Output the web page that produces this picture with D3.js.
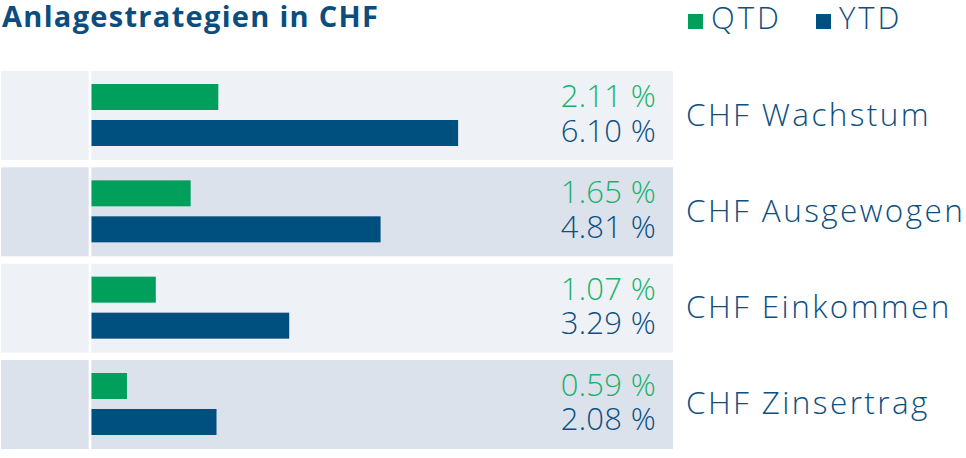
<!doctype html>
<html lang="de">
<head>
  <meta charset="utf-8">
  <title>Anlagestrategien in CHF</title>
  <style>
    body { margin: 0; background: #fff; }
    svg { display: block; }
    .title { font-family: "Open Sans", sans-serif; font-weight: 700; font-size: 29px; letter-spacing: 1.3px; fill: #0b4d7e; }
    .lbl { font-family: "Open Sans", sans-serif; font-weight: 300; }
  </style>
</head>
<body>
  <div id="chart"></div>
  <script src="https://cdn.jsdelivr.net/npm/d3@7"></script>
  <script>
(function(){

  var width = 966;
  var height = 458;

  // data
  var categories = ["CHF Wachstum", "CHF Ausgewogen", "CHF Einkommen", "CHF Zinsertrag"];
  var series = ["QTD", "YTD"];
  var qtd = [2.11, 1.65, 1.07, 0.59];
  var ytd = [6.10, 4.81, 3.29, 2.08];

  var colors = { QTD: "#00a05c", YTD: "#00507f" };
  var textColors = { QTD: "#1bb26a", YTD: "#0e4f80" };
  var rowFill = ["#eef2f7", "#dbe2ec"];
  var fmt = function(v) { return v.toFixed(2) + " %"; };

  var svg = d3.select("#chart")
      .append("svg")
      .attr("width", width)
      .attr("height", height);

  var x = d3.scaleLinear().domain([0, 10]).range([91.5, 692.5]);
  var y = d3.scaleBand().domain(categories).range([71, 449]).paddingInner(0.076).paddingOuter(0);
  var ys = d3.scaleBand().domain(series).range([13, 75]).paddingInner(0.2778).paddingOuter(0);

  svg.append("text")
      .attr("class", "title")
      .attr("x", 2)
      .attr("y", 27)
      .text("Anlagestrategien in CHF");

  // legend
  var legX = [688, 816];
  var leg = svg.selectAll(".leg").data(series).enter()
      .append("g")
      .attr("class", "leg")
      .attr("transform", function(d, i) { return "translate(" + legX[i] + ",0)"; });
  leg.append("rect")
      .attr("x", 0).attr("y", 14)
      .attr("width", 15).attr("height", 15)
      .attr("fill", function(d) { return colors[d]; });
  leg.append("text")
      .attr("class", "lbl")
      .attr("x", 23).attr("y", 29)
      .attr("font-size", 31)
      .attr("letter-spacing", 3)
      .attr("fill", "#0e4f80")
      .text(function(d) { return d; });

  var rows = svg.selectAll(".row")
      .data(categories.map(function(c, i) { return { name: c, QTD: qtd[i], YTD: ytd[i] }; }))
      .enter()
      .append("g")
      .attr("class", "row")
      .attr("transform", function(d) { return "translate(0," + y(d.name) + ")"; });

  rows.append("rect")
      .attr("x", 1)
      .attr("width", 672)
      .attr("height", y.bandwidth())
      .attr("fill", function(d, i) { return rowFill[i % 2]; });

  rows.append("rect")
      .attr("x", 88.7)
      .attr("width", 2.6)
      .attr("height", y.bandwidth())
      .attr("fill", "#fff");

  rows.selectAll(".bar")
      .data(function(d) { return series.map(function(s) { return { key: s, value: d[s] }; }); })
      .enter()
      .append("rect")
      .attr("class", "bar")
      .attr("x", x(0))
      .attr("y", function(d) { return ys(d.key); })
      .attr("width", function(d) { return x(d.value) - x(0); })
      .attr("height", ys.bandwidth())
      .attr("fill", function(d) { return colors[d.key]; });

  var valBase = { QTD: 36, YTD: 70.5 };
  rows.selectAll(".val")
      .data(function(d) { return series.map(function(s) { return { key: s, value: d[s] }; }); })
      .enter()
      .append("text")
      .attr("class", "lbl val")
      .attr("x", 656)
      .attr("y", function(d) { return valBase[d.key]; })
      .attr("text-anchor", "end")
      .attr("font-size", 31)
      .attr("letter-spacing", 0.3)
      .attr("fill", function(d) { return textColors[d.key]; })
      .text(function(d) { return fmt(d.value); });

  rows.append("text")
      .attr("class", "lbl")
      .attr("x", 686)
      .attr("y", 54.5)
      .attr("font-size", 31.5)
      .attr("letter-spacing", 2.4)
      .attr("fill", "#0e4f80")
      .text(function(d) { return d.name; });

})();
  </script>
</body>
</html>
